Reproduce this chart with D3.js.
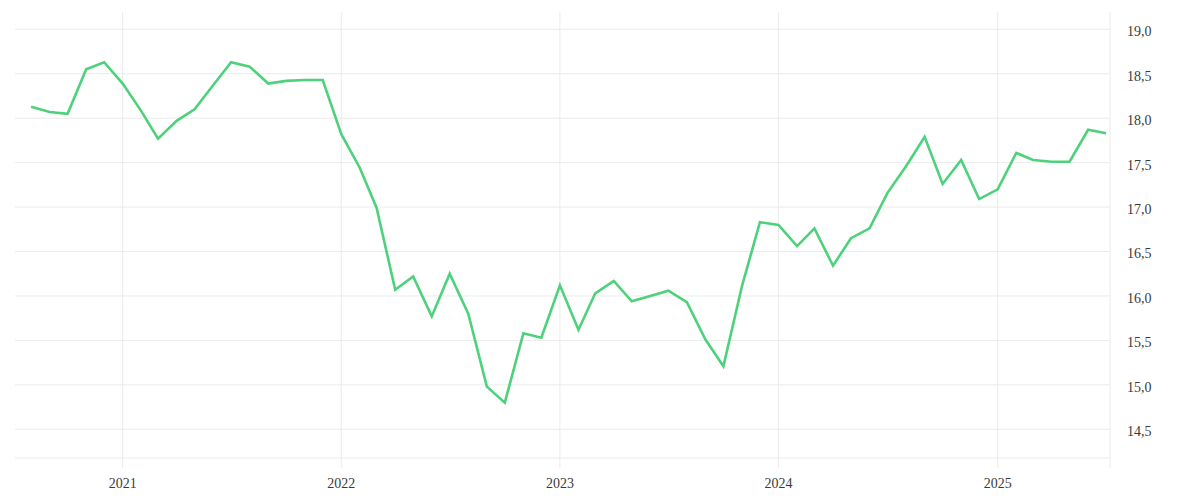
<!DOCTYPE html>
<html>
<head>
<meta charset="utf-8">
<script src="https://cdn.jsdelivr.net/npm/d3@7"></script>
<style>
  html, body { margin: 0; padding: 0; background: #fff; }
  svg { display: block; }
  text { font-family: "Liberation Serif", "DejaVu Serif", serif; font-size: 14px; fill: #3a3a3a; }
</style>
</head>
<body>
<svg id="chart" width="1200" height="500"></svg>
<script>
// Monthly dates (first of month), Aug 2020 .. Jul 2025
const months = [
  "2020-08","2020-09","2020-10","2020-11","2020-12",
  "2021-01","2021-02","2021-03","2021-04","2021-05","2021-06","2021-07","2021-08","2021-09","2021-10","2021-11","2021-12",
  "2022-01","2022-02","2022-03","2022-04","2022-05","2022-06","2022-07","2022-08","2022-09","2022-10","2022-11","2022-12",
  "2023-01","2023-02","2023-03","2023-04","2023-05","2023-06","2023-07","2023-08","2023-09","2023-10","2023-11","2023-12",
  "2024-01","2024-02","2024-03","2024-04","2024-05","2024-06","2024-07","2024-08","2024-09","2024-10","2024-11","2024-12",
  "2025-01","2025-02","2025-03","2025-04","2025-05","2025-06","2025-07"
];
const values = [
  18.13, 18.07, 18.05, 18.55, 18.63,
  18.39, 18.08, 17.77, 17.97, 18.10, 18.37, 18.63, 18.58, 18.39, 18.42, 18.43, 18.43,
  17.82, 17.44, 16.99, 16.07, 16.22, 15.77, 16.25, 15.80, 14.98, 14.80, 15.58, 15.53,
  16.12, 15.62, 16.03, 16.17, 15.94, 16.00, 16.06, 15.93, 15.51, 15.21, 16.11, 16.83,
  16.80, 16.56, 16.76, 16.34, 16.65, 16.76, 17.16, 17.46, 17.79, 17.26, 17.53, 17.09,
  17.20, 17.61, 17.53, 17.51, 17.51, 17.87, 17.83
];
const yTicks = [14.5, 15.0, 15.5, 16.0, 16.5, 17.0, 17.5, 18.0, 18.5, 19.0];
const xTickYears = ["2021", "2022", "2023", "2024", "2025"];

const parseMonth = d3.timeParse("%Y-%m");
const parseYear = d3.timeParse("%Y");
const data = months.map((m, i) => ({ date: parseMonth(m), value: values[i] }));
const xTicks = xTickYears.map(parseYear);

// Plot frame
const frameL = 15, frameR = 1110, frameT = 12, frameB = 468, gridBottom = 458;

const x = d3.scaleTime()
  .domain([parseYear("2021"), parseYear("2025")])
  .range([122.7, 997.7]);
const y = d3.scaleLinear()
  .domain([14.5, 19.0])
  .range([429.3, 29.3]);

const svg = d3.select("#chart");
const fmt = v => d3.format(".1f")(v).replace(".", ",");

// horizontal grid
const gy = svg.append("g");
gy.selectAll("line.h").data(yTicks).join("line")
  .attr("x1", frameL).attr("x2", frameR)
  .attr("y1", d => y(d)).attr("y2", d => y(d))
  .attr("stroke", "#ebebeb").attr("stroke-width", 1);
gy.append("line")
  .attr("x1", frameL).attr("x2", frameR)
  .attr("y1", gridBottom).attr("y2", gridBottom)
  .attr("stroke", "#ebebeb").attr("stroke-width", 1);

// vertical grid
const gx = svg.append("g");
gx.selectAll("line.v").data(xTicks).join("line")
  .attr("x1", d => x(d)).attr("x2", d => x(d))
  .attr("y1", frameT).attr("y2", frameB)
  .attr("stroke", "#ebebeb").attr("stroke-width", 1);
gx.append("line")
  .attr("x1", frameR).attr("x2", frameR)
  .attr("y1", frameT).attr("y2", frameB)
  .attr("stroke", "#ebebeb").attr("stroke-width", 1);

// y labels (right)
svg.append("g").selectAll("text").data(yTicks).join("text")
  .attr("x", 1127).attr("y", d => y(d) + 2).attr("dy", "0.35em")
  .text(fmt);

// x labels
svg.append("g").selectAll("text").data(xTicks).join("text")
  .attr("x", d => x(d)).attr("y", 488)
  .attr("text-anchor", "middle")
  .text(d3.timeFormat("%Y"));

// line
const line = d3.line().x(d => x(d.date)).y(d => y(d.value));
svg.append("path").datum(data)
  .attr("d", line)
  .attr("fill", "none")
  .attr("stroke", "#4dd27b")
  .attr("stroke-width", 2.6)
  .attr("stroke-linejoin", "miter");
</script>
</body>
</html>
